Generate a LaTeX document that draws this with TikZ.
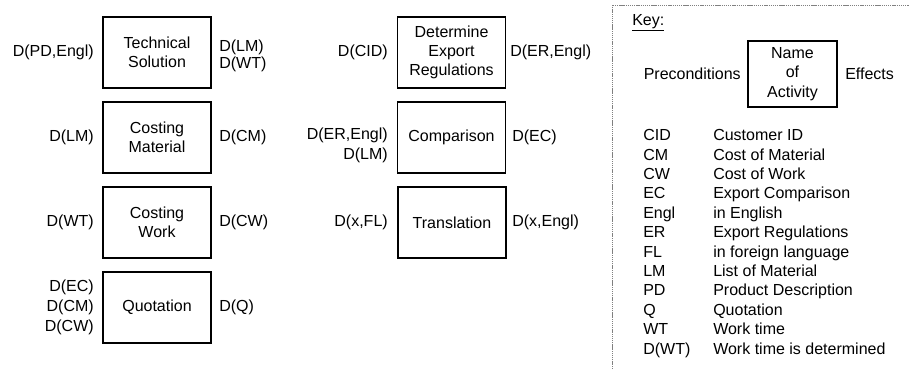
\documentclass[tikz,border=0pt]{standalone}
\usepackage{fontspec}
\setmainfont{Liberation Sans}
\begin{document}
\begin{tikzpicture}[x=0.75pt,y=-0.75pt,
  every node/.style={font=\fontsize{12}{14.5}\selectfont, inner sep=0pt},
  activity/.style={draw, line width=1.2pt, minimum width=81pt, minimum height=53.25pt, align=center},
  keybox/.style={draw, line width=1.2pt, minimum width=66.75pt, minimum height=49.5pt, align=center},
  pre/.style={anchor=east, align=right},
  eff/.style={anchor=west, align=left},
  keyline/.style={draw=gray, line width=0.7pt, dash pattern=on 1pt off 0.6pt}
]
\useasboundingbox (0,0) rectangle (909,369);

% column 1
\node[activity] (ts) at (157,52.5) {Technical\\Solution};
\node[pre] (tsp) at (94,52.5) {D(PD,Engl)};
\node[eff, font=\fontsize{12}{12.8}\selectfont] (tse) at (219,56) {D(LM)\\D(WT)};

\node[activity] (cm) at (157,137.5) {Costing\\Material};
\node[pre] (cmp) at (94,137.5) {D(LM)};
\node[eff] (cme) at (219,137.5) {D(CM)};

\node[activity] (cw) at (157,222.5) {Costing\\Work};
\node[pre] (cwp) at (94,222.5) {D(WT)};
\node[eff] (cwe) at (219,222.5) {D(CW)};

\node[activity] (q) at (157,307.5) {Quotation};
\node[pre, font=\fontsize{12}{15}\selectfont] (qp) at (94,307.5) {D(EC)\\D(CM)\\D(CW)};
\node[eff] (qe) at (219,307.5) {D(Q)};

% column 2
\node[activity] (der) at (451.5,52.5) {Determine\\Export\\Regulations};
\node[pre] (derp) at (388,52.5) {D(CID)};
\node[eff] (dere) at (510,52.5) {D(ER,Engl)};

\node[activity] (cmp2) at (451.5,137.5) {Comparison};
\node[pre, font=\fontsize{12}{15}\selectfont] (cmpp) at (388,145) {D(ER,Engl)\\D(LM)};
\node[eff] (cmpe) at (512,137.5) {D(EC)};

\node[activity] (tr) at (452,222.5) {Translation};
\node[pre] (trp) at (388,222.5) {D(x,FL)};
\node[eff] (tre) at (512,222.5) {D(x,Engl)};

% key
\coordinate (kb) at (612,369);
\coordinate (kc) at (612,5);
\coordinate (kr) at (909,5);
\draw[keyline] (kb) -- (kc) -- (kr);
\node[anchor=west] (key) at (632,23) {\underline{Key:}};
\node[keybox] (name) at (792.5,74) {Name\\of\\Activity};
\node[anchor=east] (precond) at (741,74) {Preconditions};
\node[anchor=west] (effects) at (845,74) {Effects};

\foreach \a/\b [count=\i from 0] in {CID/Customer ID, CM/Cost of Material, CW/Cost of Work, EC/Export Comparison, Engl/in English, ER/Export Regulations, FL/in foreign language, LM/List of Material, PD/Product Description, Q/Quotation, WT/Work time, D(WT)/Work time is determined}{
  \node[anchor=base west] (ab\i) at (643,{140.7+\i*19.4}) {\a};
  \node[anchor=base west] (de\i) at (713,{140.7+\i*19.4}) {\b};
}
\end{tikzpicture}
\end{document}
